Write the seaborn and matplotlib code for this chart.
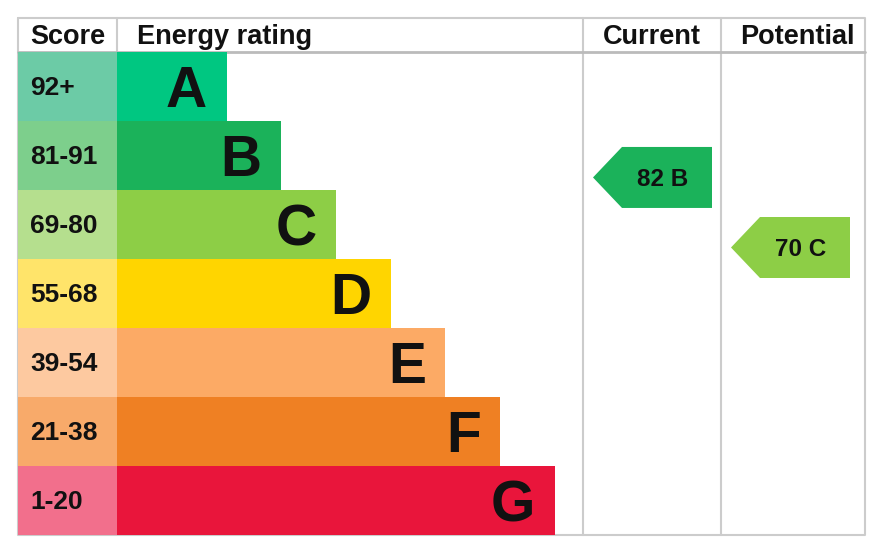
import numpy as np
import pandas as pd
import matplotlib
matplotlib.use("Agg")
import matplotlib.pyplot as plt
from matplotlib.patches import Polygon
import seaborn as sns

# EPC bands, top (best) to bottom (worst)
bands = ["A", "B", "C", "D", "E", "F", "G"]
score_ranges = ["92+", "81-91", "69-80", "55-68", "39-54", "21-38", "1-20"]
band_hi = [100, 91, 80, 68, 54, 38, 20]
band_lo = [92, 81, 69, 55, 39, 21, 1]
bar_length = [2, 3, 4, 5, 6, 7, 8]
bar_colors = ["#00c781", "#1bb25a", "#8dce46", "#ffd500", "#fcaa65", "#ef8023", "#e9153b"]
cell_colors = ["#6ccba6", "#7dcf8c", "#b5df8e", "#ffe46a", "#fdc9a0", "#f8aa6a", "#f26f8c"]

current_score, current_band = 82, "B"
potential_score, potential_band = 70, "C"

sns.set_theme(style="white")
plt.rcParams["font.family"] = ["Liberation Sans", "DejaVu Sans"]

W, H = 886, 556
fig = plt.figure(figsize=(W / 100, H / 100), dpi=100)
fig.patch.set_facecolor("white")


def frac(x0, y0, x1, y1):
    # pixel box -> figure fraction rect
    return [x0 / W, 1 - y1 / H, (x1 - x0) / W, (y1 - y0) / H]


df = pd.DataFrame({"band": bands, "length": bar_length, "range": score_ranges,
                   "full": [1] * len(bands)})

# score column
score_ax = fig.add_axes(frac(18, 52, 117, 535))
sns.barplot(data=df, x="full", y="range", hue="range", palette=cell_colors,
            orient="h", width=1.0, linewidth=0, saturation=1, legend=False, ax=score_ax)
score_ax.set_xlim(0, 1)
for i, r in enumerate(score_ranges):
    score_ax.text(0.12, i + 0.02, r, ha="left", va="center", fontsize=19,
                  fontweight="bold", color="#111111")
score_ax.set_axis_off()

# rating bars
rating_ax = fig.add_axes(frac(117, 52, 583, 535))
sns.barplot(data=df, x="length", y="band", hue="band", palette=bar_colors,
            orient="h", width=1.0, linewidth=0, saturation=1, legend=False, ax=rating_ax)
rating_ax.set_xlim(0, 466 / 54.75)
for i, (b, v) in enumerate(zip(bands, bar_length)):
    rating_ax.text(v - 0.36, i + 0.08, b, ha="right", va="center", fontsize=41,
                   fontweight="bold", color="#111111")
rating_ax.set_axis_off()


def score_to_y(score):
    for i, (hi, lo) in enumerate(zip(band_hi, band_lo)):
        if lo <= score <= hi:
            return i - 0.5 + (hi - score) / (hi - lo + 1)
    return 0


def draw_arrow(ax, score, band, width):
    y = score_to_y(score)
    h = 0.442
    color = bar_colors[bands.index(band)]
    pts = [(10, y), (39, y - h), (129, y - h), (129, y + h), (39, y + h)]
    ax.add_patch(Polygon(pts, closed=True, facecolor=color, edgecolor="none"))
    ax.text(80, y + 0.03, f"{score} {band}", ha="center", va="center",
            fontsize=17.5, fontweight="bold", color="#111111")
    ax.set_xlim(0, width)
    ax.set_ylim(6.5, -0.5)
    ax.set_axis_off()


cur_ax = fig.add_axes(frac(583, 52, 721, 535))
draw_arrow(cur_ax, current_score, current_band, 138)
pot_ax = fig.add_axes(frac(721, 52, 865, 535))
draw_arrow(pot_ax, potential_score, potential_band, 144)

# table frame and header
grid_ax = fig.add_axes([0, 0, 1, 1], zorder=-1)
grid_ax.set_xlim(0, W)
grid_ax.set_ylim(H, 0)
grid_ax.set_axis_off()
line_kw = dict(color="#cccccc", lw=1.5)
grid_ax.plot([18, 865, 865, 18, 18], [18, 18, 535, 535, 18], **line_kw)
grid_ax.plot([583, 583], [18, 535], **line_kw)
grid_ax.plot([721, 721], [18, 535], **line_kw)
grid_ax.plot([117, 117], [18, 52], **line_kw)
grid_ax.plot([18, 865], [52, 52], color="#bbbbbb", lw=2)

hdr_kw = dict(va="center", fontsize=19.5, fontweight="bold", color="#111111")
grid_ax.text(30, 37, "Score", ha="left", **hdr_kw)
grid_ax.text(137, 37, "Energy rating", ha="left", **hdr_kw)
grid_ax.text(652, 37, "Current", ha="center", **hdr_kw)
grid_ax.text(797, 37, "Potential", ha="center", **hdr_kw)

fig.savefig("out.png", dpi=100, facecolor="white")
